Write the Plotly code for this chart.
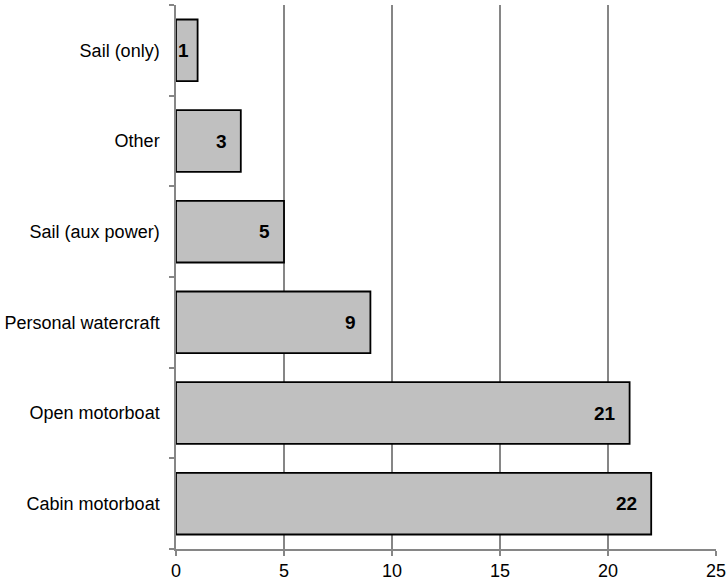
import plotly.graph_objects as go

categories = ["Cabin motorboat", "Open motorboat", "Personal watercraft",
              "Sail (aux power)", "Other", "Sail (only)"]
values = [22, 21, 9, 5, 3, 1]
x_ticks = [0, 5, 10, 15, 20, 25]

fig = go.Figure()
fig.add_trace(go.Bar(
    y=categories, x=values, orientation="h",
    marker=dict(color="#c0c0c0", line=dict(color="#000000", width=1.8)),
    hoverinfo="skip",
))

for c, v in zip(categories, values):
    fig.add_annotation(x=v, y=c, text="<b>%d</b>" % v, showarrow=False,
                       xanchor="right", xshift=-7 if v < 2 else -12,
                       font=dict(family="Liberation Sans, Arial", size=19, color="#000"))

fig.update_layout(
    width=727, height=583,
    margin=dict(l=176, r=11, t=5, b=34),
    paper_bgcolor="white", plot_bgcolor="white",
    showlegend=False, bargap=0.32,
    font=dict(family="Liberation Sans, Arial", size=18, color="#000"),
    xaxis=dict(range=[0, 25], tickvals=x_ticks, ticks="outside", ticklen=5,
               tickcolor="#868686", tickwidth=1.5,
               showgrid=True, gridcolor="#868686", gridwidth=1.5,
               showline=True, linecolor="#868686", linewidth=1.5,
               zeroline=False, fixedrange=True, automargin=False,
               ticklabelstandoff=0),
    yaxis=dict(categoryorder="array", categoryarray=categories,
               ticks="outside", ticklen=5, tickson="boundaries",
               tickcolor="#868686", tickwidth=1.5,
               showline=True, linecolor="#868686", linewidth=1.5,
               showgrid=False, ticklabelstandoff=11, fixedrange=True,
               automargin=False),
)

fig.write_html("out.html", config={"displayModeBar": False},
               post_script="document.body.style.margin='0';document.body.style.overflow='hidden';")
